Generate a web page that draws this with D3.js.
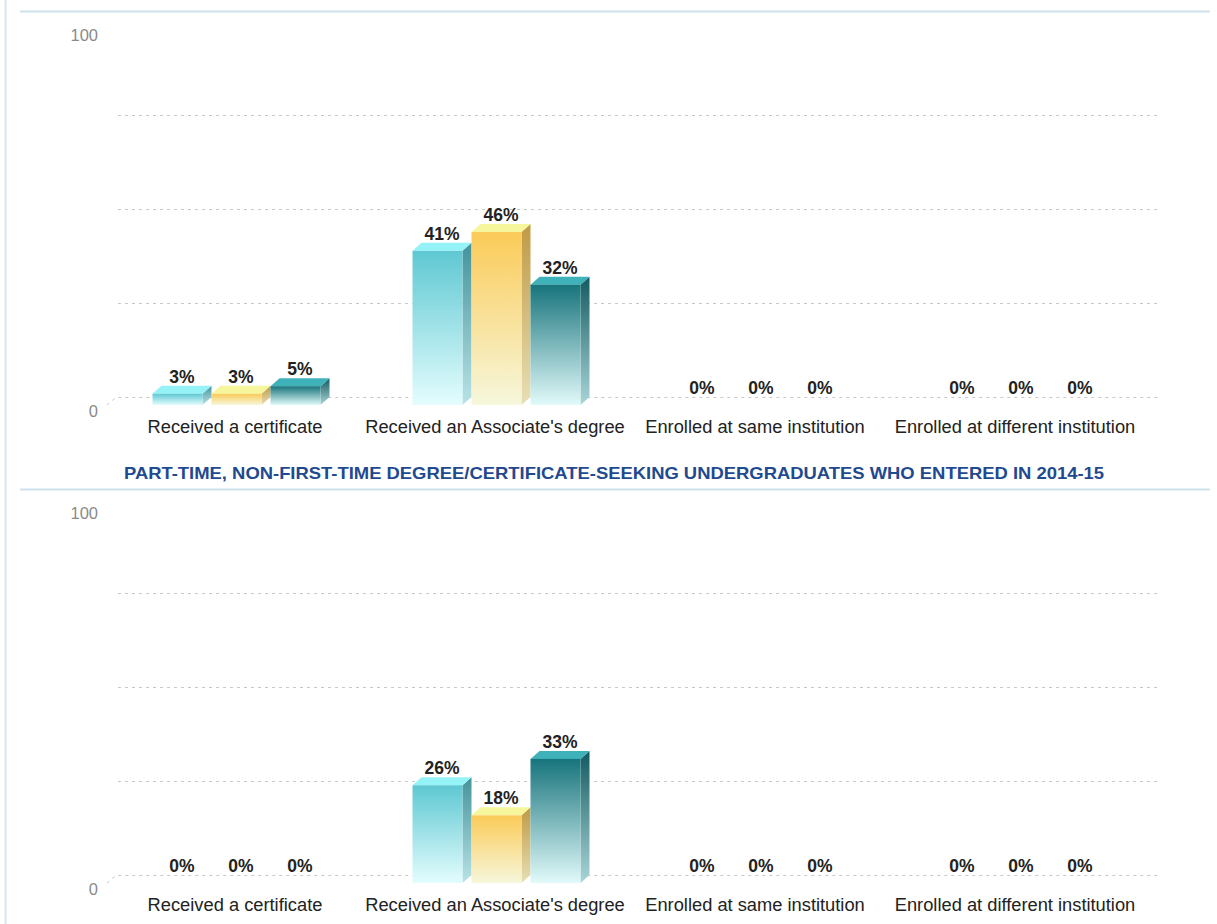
<!DOCTYPE html>
<html>
<head>
<meta charset="utf-8">
<script src="https://cdn.jsdelivr.net/npm/d3@7"></script>
<style>
  body { margin: 0; background: #fff; }
  svg { display: block; font-family: "Liberation Sans", Arial, sans-serif; }
</style>
</head>
<body>
<svg id="chart" width="1217" height="924"></svg>
<script>
// Datos
const categories = ["Received a certificate", "Received an Associate's degree",
  "Enrolled at same institution", "Enrolled at different institution"];
const seriesNames = ["s1", "s2", "s3"];

// panel de arriba
const topS1 = [3, 41, 0, 0];
const topS2 = [3, 46, 0, 0];
const topS3 = [5, 32, 0, 0];

// panel de abajo
const bottomS1 = [0, 26, 0, 0];
const bottomS2 = [0, 18, 0, 0];
const bottomS3 = [0, 33, 0, 0];

const bottomTitle = "PART-TIME, NON-FIRST-TIME DEGREE/CERTIFICATE-SEEKING UNDERGRADUATES WHO ENTERED IN 2014-15";
const gridValues = [25, 50, 75];
const axisLabels = [0, 100];

// Colores de cada serie: cara superior, frente arriba, frente abajo, lateral
const colors = [
  { top: "#95f3f7", f1: "#5ec8d2", f2: "#e4fdfe", side1: "#44939b", side2: "#b9e3e6" },
  { top: "#f6f79c", f1: "#fbcb58", f2: "#f6f7dc", side1: "#c09a45", side2: "#e7dfb5" },
  { top: "#3fb1b9", f1: "#17747c", f2: "#e2fafa", side1: "#135a60", side2: "#a9d6d8" }
];

const svg = d3.select("#chart");
const defs = svg.append("defs");
colors.forEach((c, i) => {
  const g1 = defs.append("linearGradient").attr("id", "front" + i)
    .attr("x1", 0).attr("y1", 0).attr("x2", 0).attr("y2", 1);
  g1.append("stop").attr("offset", "0%").attr("stop-color", c.f1);
  g1.append("stop").attr("offset", "100%").attr("stop-color", c.f2);
  const g2 = defs.append("linearGradient").attr("id", "side" + i)
    .attr("x1", 0).attr("y1", 0).attr("x2", 0).attr("y2", 1);
  g2.append("stop").attr("offset", "0%").attr("stop-color", c.side1);
  g2.append("stop").attr("offset", "100%").attr("stop-color", c.side2);
});

// bordes del contenedor
svg.append("line").attr("x1", 5.5).attr("x2", 5.5).attr("y1", 0).attr("y2", 924)
  .attr("stroke", "#d6e6ee").attr("stroke-width", 2);
svg.append("line").attr("x1", 20).attr("x2", 1210).attr("y1", 11.5).attr("y2", 11.5)
  .attr("stroke", "#cfe2ec").attr("stroke-width", 2);
svg.append("line").attr("x1", 20).attr("x2", 1210).attr("y1", 489.5).attr("y2", 489.5)
  .attr("stroke", "#cfe2ec").attr("stroke-width", 2);

svg.append("text")
  .attr("x", 614).attr("y", 479)
  .attr("text-anchor", "middle")
  .attr("font-size", 16.5).attr("font-weight", "bold")
  .attr("fill", "#1f4a90")
  .attr("textLength", 980).attr("lengthAdjust", "spacingAndGlyphs")
  .text(bottomTitle);

const depthX = 9, depthY = 8;
const barW = 50;

function drawPanel(offsetY, seriesData) {
  const g = svg.append("g").attr("transform", `translate(0, ${offsetY})`);

  const y = d3.scaleLinear().domain([0, 100]).range([405, 29]);
  const x0 = d3.scaleBand().domain(categories).range([105, 1145]);
  const groupW = seriesNames.length * (barW + depthX);
  const x1 = d3.scaleBand().domain(seriesNames).range([0, groupW]);

  // líneas de cuadrícula (pared del fondo)
  g.selectAll(".grid").data(gridValues).enter().append("line")
    .attr("x1", 118).attr("x2", 1158)
    .attr("y1", d => y(d) - depthY + 0.5).attr("y2", d => y(d) - depthY + 0.5)
    .attr("stroke", "#c8c8c8").attr("stroke-dasharray", "3,4");

  // piso
  g.append("path")
    .attr("d", `M107,${y(0)} L${107 + depthX},${y(0) - depthY + 0.5} L1158,${y(0) - depthY + 0.5}`)
    .attr("fill", "none")
    .attr("stroke", "#c8c8c8").attr("stroke-dasharray", "3,4");

  // etiquetas del eje
  g.selectAll(".ylab").data(axisLabels).enter().append("text")
    .attr("x", 98).attr("y", d => y(d) + 12)
    .attr("text-anchor", "end")
    .attr("font-size", 16.5).attr("fill", "#8a8a8a")
    .text(d => d);

  // barras
  seriesNames.forEach((s, si) => {
    const vals = seriesData[si];
    categories.forEach((cat, ci) => {
      const v = vals[ci];
      const xf = x0(cat) + (x0.bandwidth() - groupW) / 2 + 6 + x1(s);
      const yt = y(v), yb = y(0);
      const bar = g.append("g");
      if (v > 0) {
        // lateral
        bar.append("path")
          .attr("d", `M${xf + barW},${yt} L${xf + barW + depthX},${yt - depthY} L${xf + barW + depthX},${yb - depthY} L${xf + barW},${yb} Z`)
          .attr("fill", `url(#side${si})`);
        // superior
        bar.append("path")
          .attr("d", `M${xf},${yt} L${xf + depthX},${yt - depthY} L${xf + barW + depthX},${yt - depthY} L${xf + barW},${yt} Z`)
          .attr("fill", colors[si].top);
        // frente
        bar.append("rect")
          .attr("x", xf).attr("y", yt)
          .attr("width", barW).attr("height", yb - yt)
          .attr("fill", `url(#front${si})`);
      }
      bar.append("text")
        .attr("x", xf + barW / 2 + depthX / 2)
        .attr("y", yt - depthY - 3)
        .attr("text-anchor", "middle")
        .attr("font-size", 17.5).attr("font-weight", "bold")
        .attr("fill", "#222")
        .text(v + "%");
    });
  });

  // etiquetas de categoría
  g.selectAll(".xlab").data(categories).enter().append("text")
    .attr("x", d => x0(d) + x0.bandwidth() / 2)
    .attr("y", 432.5)
    .attr("text-anchor", "middle")
    .attr("font-size", 18.3).attr("fill", "#222")
    .text(d => d);
}

drawPanel(0, [topS1, topS2, topS3]);
drawPanel(478, [bottomS1, bottomS2, bottomS3]);
</script>
</body>
</html>
